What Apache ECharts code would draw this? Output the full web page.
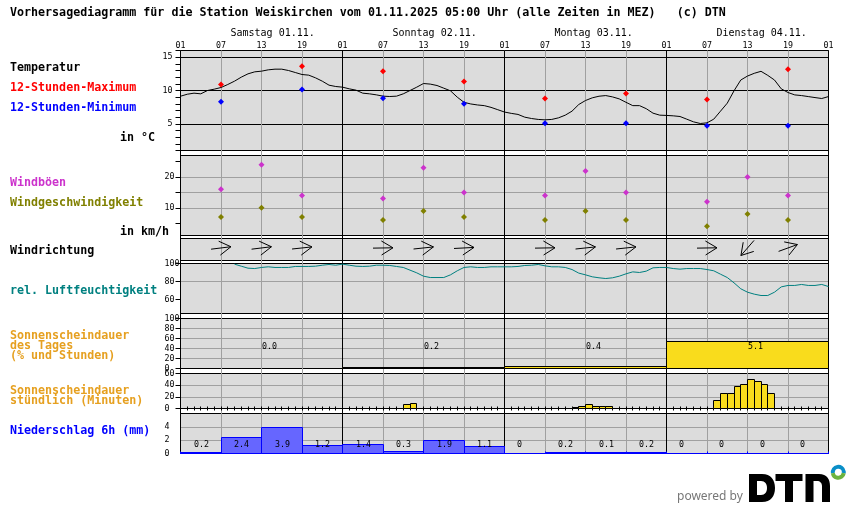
<!DOCTYPE html>
<html>
<head>
<meta charset="utf-8">
<style>html,body{margin:0;padding:0;background:#fff}#main{width:850px;height:524px}</style>
<script src="https://cdn.jsdelivr.net/npm/echarts@6/dist/echarts.min.js"></script>
</head>
<body>
<div id="main"></div>
<script>
var hourLabels = ['01','07','13','19'];
var dayLabels = ['Samstag 01.11.','Sonntag 02.11.','Montag 03.11.','Dienstag 04.11.'];

// stuendlich ab Samstag 01 Uhr
var temperature = [9.14,9.44,9.6,9.5,10,10.2,10.45,10.9,11.4,12,12.5,12.8,12.9,13.1,13.2,13.2,13,12.7,12.4,12.3,11.9,11.4,10.8,10.6,
  10.5,10.25,10.05,9.6,9.5,9.35,9.15,9.1,9.15,9.5,10,10.5,11.05,10.96,10.75,10.35,9.95,9,8.23,7.98,7.83,7.73,7.47,7.12,
  6.77,6.57,6.41,6,5.8,5.66,5.6,5.66,5.9,6.3,6.9,7.9,8.5,8.9,9.14,9.24,9.04,8.74,8.23,7.73,7.73,7.27,6.6,6.3,
  6.26,6.2,6.1,5.7,5.3,5.05,5.15,5.7,6.9,8.1,9.95,11.57,12.17,12.58,12.88,12.27,11.57,10.25,9.7,9.34,9.24,9.09,8.94,8.8,9.09];
var humidity = [null,null,null,null,null,null,null,null,99.3,97,94.8,94.4,95.6,96.3,95.6,95.6,95.6,96.7,96.7,96.7,97,98.1,98.9,98.1,
  99.3,98.1,97,96.7,97,98.1,98.1,97.8,96.7,95.6,92.6,89.6,85.9,84.4,84.4,84.4,87.4,91.9,95.6,96.3,95.6,95.6,96.3,96.3,
  96.3,96.3,96.7,97.8,98.1,98.9,97.4,96.3,96.3,95.6,93.3,89.3,87.4,85.2,84.1,83.3,84.1,85.9,88.5,90.7,90,91.5,95.2,95.6,
  95.6,94.4,93.7,94.4,94.4,94.4,93.3,91.9,88.1,84.4,78.5,71.9,68.1,65.9,64.4,64.4,68.1,74,75.6,75.6,76.7,75.6,75.6,76.7,74.4];

var extremeHours = [6,18,30,42,54,66,78,90];
var tempMax = [10.9,13.64,12.88,11.36,8.79,9.55,8.64,13.18];
var tempMin = [8.33,10.15,8.84,8.03,5.1,5.1,4.7,4.7];

var windHours = [6,12,18,30,36,42,54,60,66,78,84,90];
var windGust = [16,24,14,13,23,15,14,22,15,12,20,14];
var windSpeed = [7,10,7,6,9,7,6,9,6,4,8,6];
var windAngle = [7,7,6,1,6,3,1,6,6,1,229,20]; // Grad, 0 = nach Osten

var sunDayPercent = [0,2,4,54];
var sunDayHours = ['0.0','0.2','0.4','5.1'];
var sunHourStart = [33,34,58,59,60,61,62,63,79,80,81,82,83,84,85,86,87];
var sunMinutes = [7,9,2,4,7,4,4,4,14,26,26,38,41,50,46,41,26];

var rain = [0.2,2.4,3.9,1.2,1.4,0.3,1.9,1.1,0,0.2,0.1,0.2,0,0,0,0];
var rainLabels = ['0.2','2.4','3.9','1.2','1.4','0.3','1.9','1.1','0','0.2','0.1','0.2','0','0','0','0'];

var MONO = '"DejaVu Sans Mono"';
var GRAY = '#a0a0a0';
var PANEL = '#dcdcdc';
var NONE = 'rgba(0,0,0,0)';

var chart = echarts.init(document.getElementById('main'), null, {renderer:'canvas'});

// feste Felder links
function legendText(text, x, y, color) {
  return {type:'text', x:x, y:y+1, silent:true, style:{text:text, fill:color, font:'bold 11.67px '+MONO, textAlign:'left', textVerticalAlign:'middle'}};
}
var ORANGE = '#e6a020';
var graphics = [
  legendText('Vorhersagediagramm für die Station Weiskirchen vom 01.11.2025 05:00 Uhr (alle Zeiten in MEZ)   (c) DTN',10,12,'#000'),
  legendText('Temperatur',10,67,'#000'),
  legendText('12-Stunden-Maximum',10,87,'#f00'),
  legendText('12-Stunden-Minimum',10,107,'#00f'),
  legendText('in °C',120,137,'#000'),
  legendText('Windböen',10,182,'#cc33cc'),
  legendText('Windgeschwindigkeit',10,202,'#808000'),
  legendText('in km/h',120,231,'#000'),
  legendText('Windrichtung',10,250,'#000'),
  legendText('rel. Luftfeuchtigkeit',10,290,'#008080'),
  legendText('Sonnenscheindauer',10,335,ORANGE),
  legendText('des Tages',10,345,ORANGE),
  legendText('(% und Stunden)',10,355,ORANGE),
  legendText('Sonnenscheindauer',10,390,ORANGE),
  legendText('stündlich (Minuten)',10,400,ORANGE),
  legendText('Niederschlag 6h (mm)',10,430,'#00f'),
  {type:'text', x:677, y:497, silent:true, style:{text:'powered by', fill:'#777', font:'12px "Noto Sans"', textVerticalAlign:'middle'}},
  {type:'sector', silent:true, shape:{cx:838.3, cy:472.3, r:7.5, r0:3.5, startAngle:Math.PI*0.95, endAngle:Math.PI*2.05}, style:{fill:'#0a8fc8'}},
  {type:'sector', silent:true, shape:{cx:838.3, cy:472.3, r:7.5, r0:3.5, startAngle:Math.PI*0.05, endAngle:Math.PI*0.95}, style:{fill:'#6cb33f'}}
];

function panel(top, bottom) {
  return {left:180.5, width:648, top:top, height:bottom-top, show:true, backgroundColor:PANEL, borderColor:'#000', borderWidth:1, outerBoundsMode:'none'};
}
var grids = [
  {left:180.5, width:648, top:50.5, height:403, show:false, outerBoundsMode:'none'},
  panel(50.5,150.5), panel(155.5,235.5), panel(238.5,260.5), panel(263.5,313.5),
  panel(318.5,368.5), panel(373.5,408.5), panel(413.5,453.5)
];

// x-Achse 0 traegt die Stundenbeschriftung und die durchgehenden senkrechten Linien
var xAxes = grids.map(function(g,i){
  if (i === 0) {
    return {gridIndex:0, type:'value', min:0, max:96, interval:6, position:'top',
      axisLine:{show:false}, axisTick:{show:false},
      axisLabel:{margin:1, fontFamily:MONO, fontSize:8.3, color:'#000', hideOverlap:false,
        formatter:function(v){ return hourLabels[(v/6)%4]; }},
      splitLine:{show:true, showMinLine:true, showMaxLine:true, lineStyle:{width:1, color:['#000',GRAY,GRAY,GRAY]}}};
  }
  if (i === 7) {
    // blaue Grundlinie mit kurzen Strichen an den 6-Stunden-Grenzen
    return {gridIndex:7, type:'value', min:0, max:96, interval:6,
      axisLine:{show:true, lineStyle:{color:'#00f', width:1}},
      axisTick:{show:true, inside:true, length:2, lineStyle:{color:'#00f', width:1}},
      axisLabel:{show:false}, splitLine:{show:false}};
  }
  return {gridIndex:i, type:'value', min:0, max:96, show:false};
});

function yLabel(margin, align, formatter) {
  var o = {margin:margin, align:align, fontFamily:MONO, fontSize:8.3, color:'#000', hideOverlap:false};
  if (formatter) o.formatter = formatter;
  return o;
}
var yTick = {show:true, length:5, lineStyle:{color:'#000', width:1}};
function ySplit(color) {
  return {show:true, showMinLine:false, showMaxLine:false, lineStyle:{width:1, color:color}};
}
var yAxes = [
  {gridIndex:0, type:'value', min:0, max:1, show:false},
  // erste Linie (min) wird uebersprungen, darum steht Schwarz an vierter Stelle: 5, 10, 15
  {gridIndex:1, type:'value', min:1, max:16, interval:1, axisLine:{show:false}, axisTick:yTick,
    axisLabel:yLabel(8,'right',function(v){ return v%5===0 ? v : ''; }),
    splitLine:ySplit([NONE,NONE,NONE,'#000',NONE])},
  {gridIndex:2, type:'value', min:1, max:27, axisLine:{show:false},
    axisTick:{show:true, length:5, lineStyle:{color:'#000', width:1}, customValues:[5,10,15,20,25]},
    axisLabel:Object.assign(yLabel(16,'left'),{customValues:[10,20]}),
    splitLine:ySplit(GRAY)},
  {gridIndex:3, type:'value', min:0, max:1, show:false},
  {gridIndex:4, type:'value', min:44.4, max:100, axisLine:{show:false},
    axisTick:{show:true, length:5, lineStyle:{color:'#000', width:1}, customValues:[60,80,100]},
    axisLabel:Object.assign(yLabel(16,'left'),{customValues:[60,80,100]}),
    splitLine:ySplit(GRAY)},
  {gridIndex:5, type:'value', min:0, max:100, interval:20, axisLine:{show:false}, axisTick:yTick,
    axisLabel:yLabel(16,'left'), splitLine:ySplit(GRAY)},
  {gridIndex:6, type:'value', min:0, max:60, interval:20, axisLine:{show:false}, axisTick:yTick,
    axisLabel:yLabel(16,'left'), splitLine:ySplit(GRAY)},
  {gridIndex:7, type:'value', min:0, max:6, interval:2, axisLine:{show:false}, axisTick:{show:false},
    axisLabel:yLabel(16,'left',function(v){ return v===6 ? '' : v; }), splitLine:ySplit(GRAY)}
];

function pairs(xs, ys){ return xs.map(function(x,i){ return [x, ys[i]]; }); }
function byHour(ys){ return ys.map(function(y,i){ return [i, y]; }); }

function lineSeries(idx, values, color) {
  return {type:'line', xAxisIndex:idx, yAxisIndex:idx, data:byHour(values), showSymbol:false, connectNulls:false,
    lineStyle:{color:color, width:1}, itemStyle:{color:color}, z:3};
}
function dots(idx, xs, ys, color) {
  return {type:'scatter', xAxisIndex:idx, yAxisIndex:idx, data:pairs(xs,ys), symbol:'diamond', symbolSize:6,
    itemStyle:{color:color, opacity:1}, z:4};
}

// Rechteck von x0 bis x1 auf der Nulllinie, Wert bestimmt die Hoehe
function rectSeries(idx, data, fill, stroke) {
  return {type:'custom', xAxisIndex:idx, yAxisIndex:idx, data:data, z:3,
    renderItem:function(p, api){
      var a = api.coord([api.value(0), api.value(2)]);
      var b = api.coord([api.value(1), 0]);
      var x0 = Math.round(a[0]-0.5)+0.5, x1 = Math.round(b[0]-0.5)+0.5;
      var y0 = Math.round(a[1]-0.5)+0.5, y1 = Math.round(b[1]-0.5)+0.5;
      return {type:'rect', shape:{x:x0, y:y0, width:x1-x0, height:y1-y0},
        style:{fill:fill, stroke:stroke, lineWidth:1}};
    }};
}
function textSeries(idx, data, texts, dx) {
  return {type:'custom', xAxisIndex:idx, yAxisIndex:idx, data:data, z:5,
    renderItem:function(p, api){
      var c = api.coord([api.value(0), api.value(1)]);
      var t = texts[p.dataIndex];
      return {type:'text', x:Math.round(c[0]+(t.length===1 ? dx-1 : dx)), y:Math.round(c[1]),
        style:{text:t, fill:'#000', font:'8.3px '+MONO, textAlign:'left', textVerticalAlign:'middle'}};
    }};
}

var arrowSeries = {type:'custom', xAxisIndex:3, yAxisIndex:3, z:4,
  data:pairs(windHours, windAngle),
  renderItem:function(p, api){
    var c = api.coord([api.value(0), 0.57]);
    var r = api.value(1)*Math.PI/180;
    function pt(u,v){ return [c[0]+u*Math.cos(r)+v*Math.sin(r), c[1]-u*Math.sin(r)+v*Math.cos(r)]; }
    var style = {stroke:'#000', fill:null, lineWidth:1};
    return {type:'group', children:[
      {type:'polyline', shape:{points:[pt(-10,0),pt(10,0)]}, style:style},
      {type:'polyline', shape:{points:[pt(-1.5,-7),pt(10,0),pt(-1.5,7)]}, style:style}
    ]};
  }};

// Stundenstriche auf der Nulllinie
var hourTicks = [];
for (var h=1; h<96; h++) hourTicks.push([h]);
var tickSeries = {type:'custom', xAxisIndex:6, yAxisIndex:6, data:hourTicks, z:2,
  renderItem:function(p, api){
    var c = api.coord([api.value(0), 0]);
    var x = Math.round(c[0]-0.5)+0.5, y = Math.round(c[1]-0.5)+0.5;
    return {type:'line', shape:{x1:x, y1:y-2, x2:x, y2:y+2}, style:{stroke:'#000', lineWidth:1}};
  }};

// Firmenzeichen unten rechts
var logoSeries = {type:'custom', xAxisIndex:0, yAxisIndex:0, data:[[0]], z:6, silent:true,
  renderItem:function(){
    return {type:'path', shape:{layout:'cover', x:749, y:474, width:81, height:28,
      pathData:'M0 0H13C22 0 26 6 26 14C26 22 22 28 13 28H0ZM8 7V21H12C16 21 18 18 18 14C18 10 16 7 12 7Z'+
        'M26.5 0H53.5V7H44V28H36V7H26.5Z'+
        'M56.5 28V0H70C78 0 81 5 81 12V28H73V12C73 9 71 7 68 7H64.5V28Z'}, style:{fill:'#000'}};
  }};

var sunDayBars = sunDayPercent.map(function(v,i){ return [i*24,(i+1)*24,v]; }).filter(function(d){ return d[2]>0; });
var sunHourBars = sunHourStart.map(function(x,i){ return [x,x+1,sunMinutes[i]]; });
var rainBars = rain.map(function(v,i){ return [i*6,(i+1)*6,v]; });

var series = [
  lineSeries(1, temperature, '#000'),
  dots(1, extremeHours, tempMax, '#f00'),
  dots(1, extremeHours, tempMin, '#00f'),
  dots(2, windHours, windGust, '#cc33cc'),
  dots(2, windHours, windSpeed, '#808000'),
  arrowSeries,
  lineSeries(4, humidity, '#008080'),
  rectSeries(5, sunDayBars, '#f9dc1c', '#000'),
  textSeries(5, [[12,42.6],[36,42.6],[60,42.6],[84,42.6]], sunDayHours, 0),
  tickSeries,
  rectSeries(6, sunHourBars, '#f9dc1c', '#000'),
  rectSeries(7, rainBars, '#6666ff', '#0000ff'),
  textSeries(7, rainBars.map(function(d){ return [(d[0]+d[1])/2, 1.25]; }), rainLabels, -7),
  logoSeries
];

chart.setOption({
  animation:false,
  backgroundColor:'#fff',
  grid:grids,
  xAxis:xAxes,
  yAxis:yAxes,
  series:series,
  graphic:{elements:graphics}
});

// Tagesnamen beginnen 50 Pixel hinter dem Tageswechsel
var dayGraphics = dayLabels.map(function(t,i){
  var x = chart.convertToPixel({xAxisIndex:0}, i*24);
  return {type:'text', x:x+50, y:33, silent:true, style:{text:t, fill:'#000', font:'10px '+MONO, textAlign:'left', textVerticalAlign:'middle'}};
});
chart.setOption({graphic:{elements:graphics.concat(dayGraphics)}});
</script>
</body>
</html>
